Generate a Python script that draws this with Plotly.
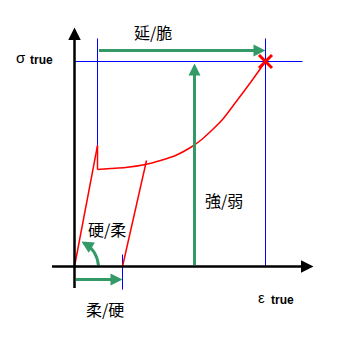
import plotly.graph_objects as go

# ---- data (strain / stress in chart units, origin at the axes crossing) ----
elastic_strain = [0, 23]
elastic_stress = [0, 121]
drop_strain = [23, 23]
drop_stress = [121, 97]
curve_strain = [23, 36, 51, 71, 86, 101, 116, 126, 136, 148, 161, 176, 191]
curve_stress = [97, 98, 99, 102, 106, 111, 119, 126, 135, 147, 164, 184, 205]
unload_strain = [48, 72]
unload_stress = [0, 106]
fracture_strain = [191]
fracture_stress = [205]

yield_strain = 23
yield_stress = 121
unload_end = 48
strength_arrow_x = 120

labels = ["延/脆", "硬/柔", "柔/硬", "強/弱"]
axis_symbols = ["σ", "ε"]
axis_sub = "true"

RED = "#ff0000"
BLUE = "#0000ff"
GREEN = "#339966"
CJK = "Noto Sans CJK JP"

fig = go.Figure()


def line(xs, ys, color, width):
    fig.add_trace(go.Scatter(x=xs, y=ys, mode="lines", hoverinfo="skip",
                             line=dict(color=color, width=width)))


# blue guide lines
fx, fy = fracture_strain[0], fracture_stress[0]
line([0, 228], [fy, fy], BLUE, 1)
line([yield_strain, yield_strain], [228, yield_stress], BLUE, 1)
line([fx, fx], [228, 0], BLUE, 1)
line([unload_end, unload_end], [12, -23], BLUE, 1)

# red stress-strain curve
line(elastic_strain, elastic_stress, RED, 1.5)
line(drop_strain, drop_stress, RED, 1.5)
fig.add_trace(go.Scatter(x=curve_strain, y=curve_stress, mode="lines", hoverinfo="skip",
                         line=dict(color=RED, width=1.5, shape="spline", smoothing=0.6)))
line(unload_strain, unload_stress, RED, 1.5)
fig.add_trace(go.Scatter(x=fracture_strain, y=fracture_stress, mode="markers", hoverinfo="skip",
                         marker=dict(symbol="x-thin", size=13, line=dict(color=RED, width=3))))


def arrow(x, y, ax, ay, color, width, size):
    fig.add_annotation(x=x, y=y, ax=ax, ay=ay, xref="x", yref="y", axref="x", ayref="y",
                       showarrow=True, arrowhead=2, arrowsize=size, arrowwidth=width,
                       arrowcolor=color, text="", standoff=0)


# axes
arrow(0, 239, 0, -23, "black", 2.5, 1.0)
arrow(239, 0, -24, 0, "black", 2.5, 1.0)

# green arrows
arrow(fx, 216, yield_strain, 216, GREEN, 3, 0.8)
arrow(strength_arrow_x, fy - 2, strength_arrow_x, 0, GREEN, 3, 0.8)
arrow(unload_end, -13, 0, -13, GREEN, 3, 0.8)

# curved green arrow
fig.add_shape(type="path", path="M 24,1 Q 22,17 10,23", xref="x", yref="y",
              line=dict(color=GREEN, width=3))
arrow(7, 25, 12, 22, GREEN, 3, 0.8)

# text labels
def text(x, y, s, size, family=CJK, bold=False):
    fig.add_annotation(x=x, y=y, xref="x", yref="y", text=(f"<b>{s}</b>" if bold else s),
                       showarrow=False, font=dict(family=family, size=size, color="black"))

text(78, 235, labels[0], 16)
text(32, 38, labels[1], 16)
text(30, -42, labels[2], 16)
text(149, 67, labels[3], 16)

text(-54, 209, axis_symbols[0], 15, "Liberation Sans")
text(-33, 207, axis_sub, 12, "Liberation Sans", True)
text(187, -31, axis_symbols[1], 15, "Liberation Sans")
text(208, -33, axis_sub, 12, "Liberation Sans", True)

fig.update_layout(width=340, height=340, autosize=False,
                  margin=dict(l=0, r=0, t=0, b=0, pad=0),
                  paper_bgcolor="white", plot_bgcolor="white", showlegend=False,
                  xaxis=dict(visible=False, range=[-74.5, 265.5], fixedrange=True),
                  yaxis=dict(visible=False, range=[-73.5, 266.5], fixedrange=True))

fig.write_html("out.html")
